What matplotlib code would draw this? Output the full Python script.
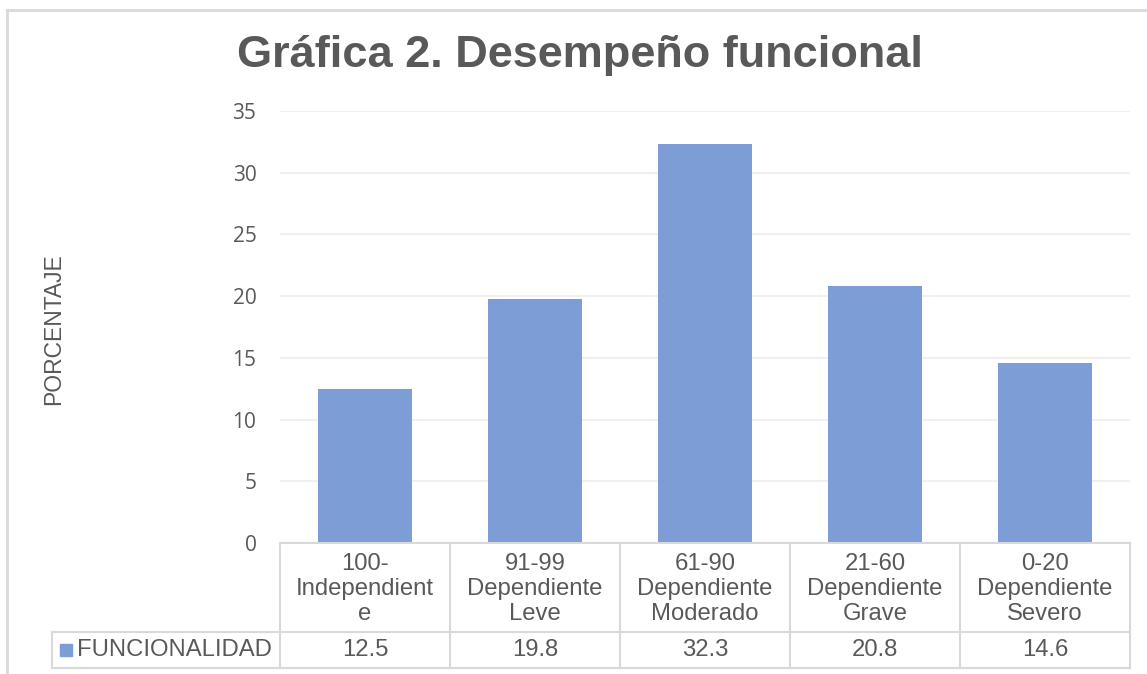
import numpy as np
import matplotlib
matplotlib.use("Agg")
import matplotlib.pyplot as plt
from matplotlib.patches import Rectangle

# data
categorias = ["100-\nIndependient\ne", "91-99\nDependiente\nLeve",
              "61-90\nDependiente\nModerado", "21-60\nDependiente\nGrave",
              "0-20\nDependiente\nSevero"]
funcionalidad = [12.5, 19.8, 32.3, 20.8, 14.6]
serie = "FUNCIONALIDAD"

W, H = 1147, 674
gris = "#595959"
azul = "#7C9DD6"
borde = "#D9D9D9"
fs = 17.2

fig = plt.figure(figsize=(W / 100, H / 100), dpi=100)

# outer chart border (Excel chart area)
fig.add_artist(plt.Line2D([7 / W, 7 / W], [0, 1 - 10 / H], color=borde, lw=2))
fig.add_artist(plt.Line2D([7 / W, 1146 / W], [1 - 10 / H, 1 - 10 / H], color=borde, lw=2))

# plot area in pixels
x0, x1 = 280, 1130
ytop, ybot = 111, 543
ax = fig.add_axes([x0 / W, 1 - ybot / H, (x1 - x0) / W, (ybot - ytop) / H])

x = np.arange(len(funcionalidad))
ax.bar(x, funcionalidad, width=0.55, color=azul, zorder=2)
ax.set_xlim(-0.5, len(x) - 0.5)
ax.set_ylim(0, 35)
ax.set_yticks(np.arange(0, 36, 5))
ax.set_xticks([])
ax.grid(axis="y", color="#EFEFEF", lw=1.3, zorder=0)
for s in ax.spines.values():
    s.set_visible(False)
ax.tick_params(axis="y", length=0, pad=17, labelsize=15, labelcolor=gris)
for lab in ax.get_yticklabels():
    lab.set_family("Open Sans")
    lab.set_horizontalalignment("right")

fig.text(54 / W, 1 - 329 / H, "PORCENTAJE", rotation=90, ha="center",
         va="center", fontsize=16.5, color=gris, family="Liberation Sans")

# data table below the axes
trans = ax.get_xaxis_transform()
h = ybot - ytop
r1 = -(632 - ybot) / h
r2 = -(668 - ybot) / h
leg_left = -0.5 - (x0 - 52) / ((x1 - x0) / len(x))
kw = dict(color=borde, lw=1.5, transform=trans, clip_on=False)

ax.plot([-0.5, len(x) - 0.5], [0, 0], **kw)
ax.plot([leg_left, len(x) - 0.5], [r1, r1], **kw)
ax.plot([leg_left, len(x) - 0.5], [r2, r2], **kw)
ax.plot([leg_left, leg_left], [r1, r2], **kw)
for xb in np.arange(-0.5, len(x), 1.0):
    ax.plot([xb, xb], [0, r2], **kw)

for i, (c, v) in enumerate(zip(categorias, funcionalidad)):
    ax.text(i, r1 / 2 - 0.004, c, transform=trans, ha="center", va="center",
            fontsize=fs, color=gris, family="Liberation Sans",
            linespacing=1.18, clip_on=False)
    ax.text(i, (r1 + r2) / 2, f"{v}", transform=trans, ha="center",
            va="center", fontsize=fs, color=gris, family="Liberation Sans",
            clip_on=False)

# legend key inside table
fig.add_artist(Rectangle((60 / W, 1 - 656 / H), 12 / W, 12 / H,
                         color=azul, transform=fig.transFigure))
fig.text(77 / W, 1 - 650 / H, serie, ha="left", va="center", fontsize=fs,
         color=gris, family="Liberation Sans")

fig.text(580 / W, 1 - 56 / H, "Gráfica 2. Desempeño funcional", ha="center",
         va="center", fontsize=32.5, fontweight="bold", color=gris,
         family="Liberation Sans")

fig.savefig("out.png", dpi=100)
